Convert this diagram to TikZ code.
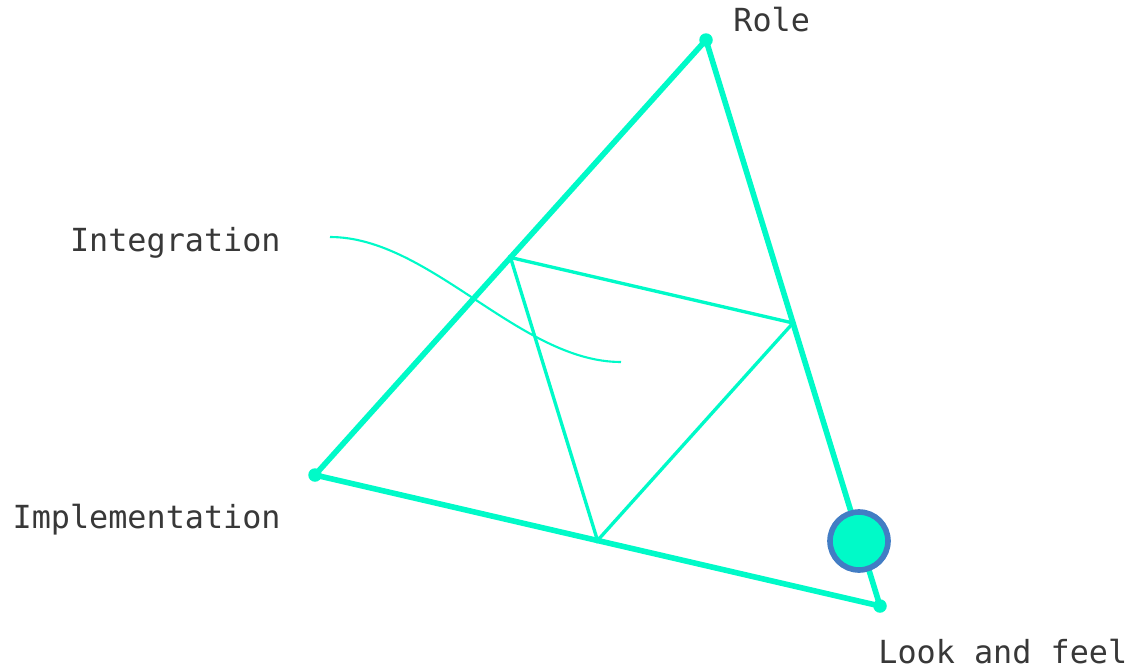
\documentclass[tikz,border=0pt]{standalone}
\usepackage{fontspec}
\setmonofont{DejaVu Sans Mono}
\usetikzlibrary{calc}
\definecolor{mint}{RGB}{0,250,200}
\definecolor{ringblue}{RGB}{66,125,196}
\tikzset{
	corner/.style={circle,fill=mint,inner sep=0pt,minimum size=0.27cm},
	caption/.style={font=\ttfamily\fontsize{18.1}{20}\selectfont,text=black!78,inner sep=0pt},
	outer/.style={draw=mint,line width=3.2pt},
	inner/.style={draw=mint,line width=1.9pt}
}
\begin{document}
\begin{tikzpicture}[x=0.02cm,y=-0.02cm]
	\useasboundingbox (0,0) rectangle (1130,670);
	\coordinate (role) at (706,40); \coordinate (impl) at (315,475); \coordinate (look) at (880,606);
	\coordinate (ri) at ($(role)!0.5!(impl)$);
	\coordinate (rl) at ($(role)!0.5!(look)$);
	\coordinate (il) at ($(impl)!0.5!(look)$);
	\draw [outer] (role) -- (impl) -- (look) -- cycle;
	\draw [inner] (ri) -- (rl) -- (il) -- cycle;
	\foreach \v in {role,impl,look}{
		\node [corner] at (\v) (dot-\v) {};
	}
	\coordinate (tail) at (330,237); \coordinate (tip) at (621,362);
	\draw [mint,line width=1.2pt] (tail) .. controls (430,237) and (520,362) .. (tip);
	\node [circle,fill=mint,draw=ringblue,line width=3.2pt,minimum size=1.16cm,inner sep=0pt] at (859,541) (marker) {};
	\node [caption,anchor=west] at (733,20) (rolelabel) {Role};
	\node [caption,anchor=east] at (281,243) (intlabel) {Integration};
	\node [caption,anchor=east] at (281,520) (impllabel) {Implementation};
	\node [caption,anchor=west] at (878,652) (looklabel) {Look and feel};
\end{tikzpicture}
\end{document}
